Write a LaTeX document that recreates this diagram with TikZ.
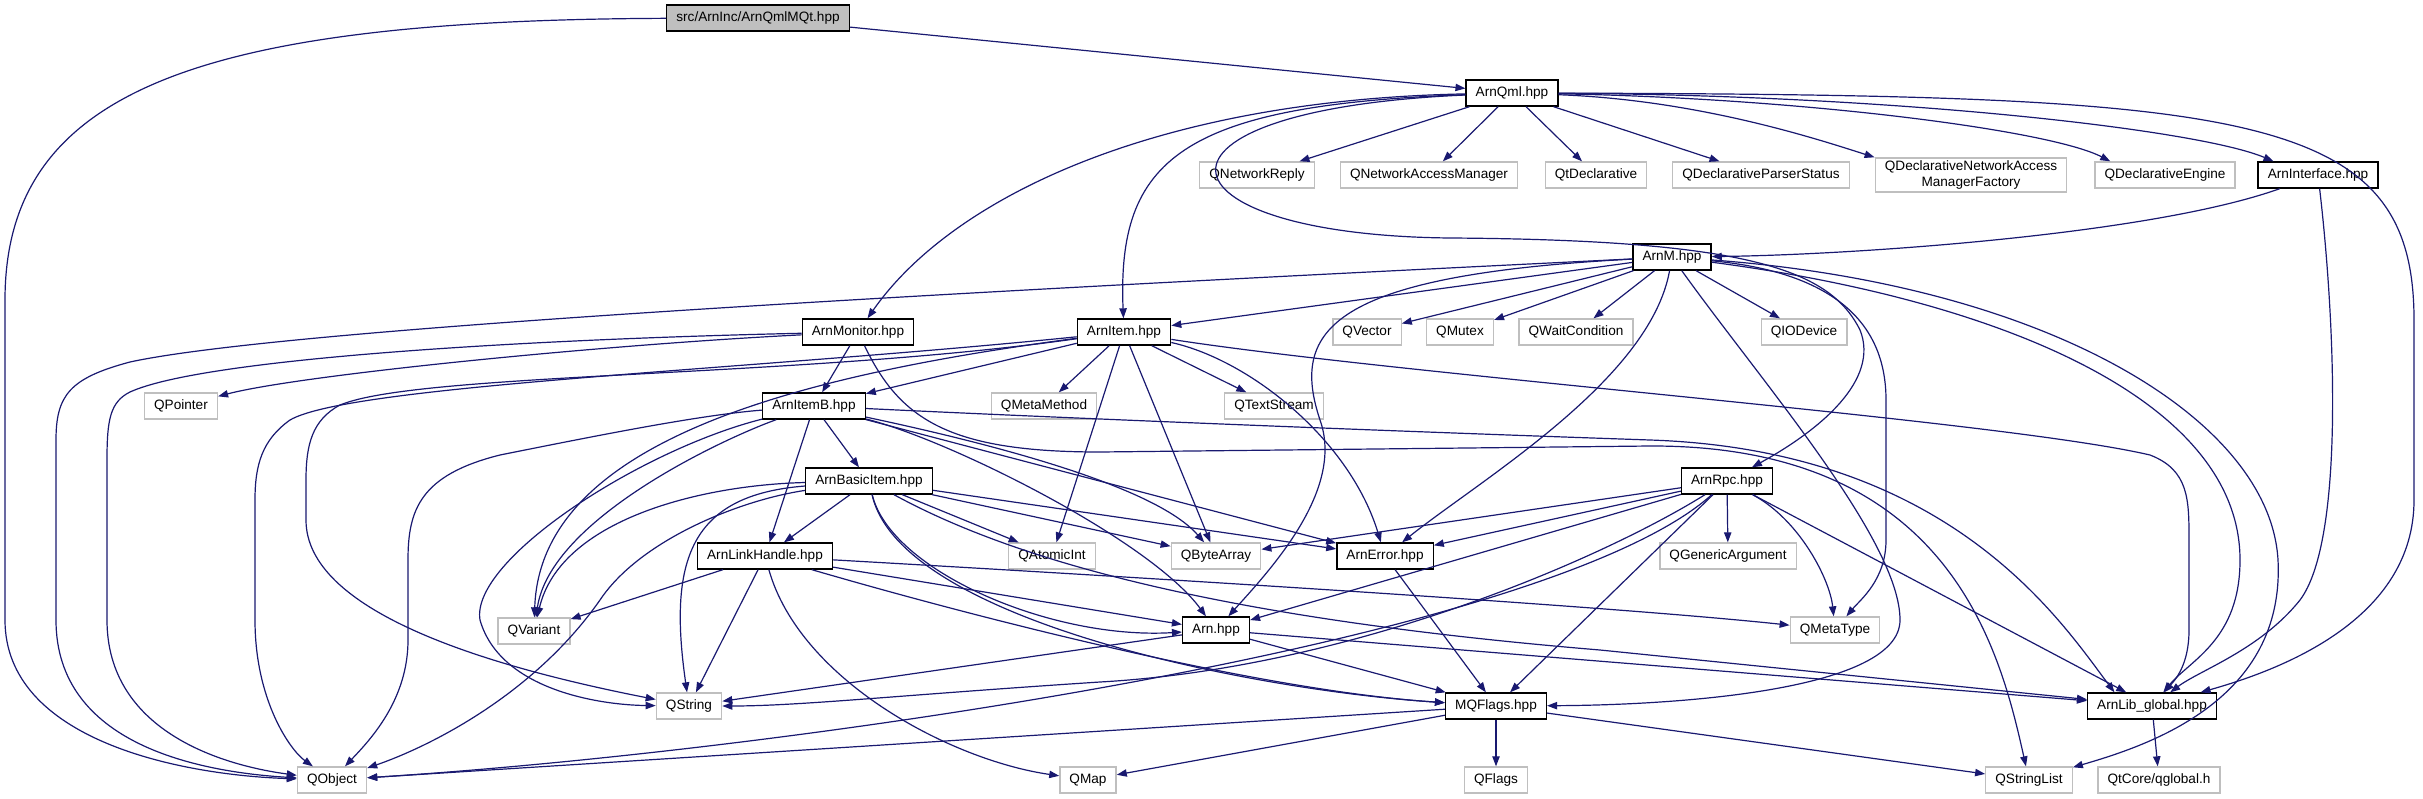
\documentclass[tikz,border=0pt]{standalone}
\usepackage{fontspec}
\setmainfont{Liberation Sans}
\usetikzlibrary{arrows.meta}
\definecolor{edgeblue}{RGB}{25,25,112}
\definecolor{extgray}{RGB}{191,191,191}

\begin{document}
\begin{tikzpicture}[x=0.75pt,y=-0.75pt,
  filebox/.style={fill=white,font=\fontsize{10.2}{12}\selectfont,inner xsep=7.2pt,inner ysep=2pt,minimum height=19.5pt,line width=1pt},
  hdr/.style={filebox,draw=black},
  sys/.style={filebox,draw=extgray},
  srcfile/.style={filebox,draw=black,fill=extgray},
  incl/.style={draw=edgeblue,line width=0.9pt,-{Triangle[length=7.5pt,width=5.5pt]}}]
  \useasboundingbox (0,0) rectangle (2423,799);
  % files, row by row
  \node[srcfile] (src) at (758,18) {src/ArnInc/ArnQmlMQt.hpp};
  \node[hdr] (qml) at (1512,93) {ArnQml.hpp};
  \node[sys] (netreply) at (1257,175) {QNetworkReply};
  \node[sys] (netmgr) at (1429,175) {QNetworkAccessManager};
  \node[sys] (qtdecl) at (1596,175) {QtDeclarative};
  \node[sys] (parser) at (1761,175) {QDeclarativeParserStatus};
  \node[sys,align=center] (factory) at (1971,175) {QDeclarativeNetworkAccess\\ManagerFactory};
  \node[sys] (engine) at (2165,175) {QDeclarativeEngine};
  \node[hdr] (iface) at (2318,175) {ArnInterface.hpp};
  \node[hdr] (arnm) at (1672,257) {ArnM.hpp};
  \node[hdr] (monitor) at (858,332) {ArnMonitor.hpp};
  \node[hdr] (item) at (1124,332) {ArnItem.hpp};
  \node[sys] (vector) at (1367,332) {QVector};
  \node[sys] (mutex) at (1460,332) {QMutex};
  \node[sys] (waitcond) at (1576,332) {QWaitCondition};
  \node[sys] (iodev) at (1804,332) {QIODevice};
  \node[sys] (pointer) at (181,406) {QPointer};
  \node[hdr] (itemb) at (814,406) {ArnItemB.hpp};
  \node[sys] (metamethod) at (1044,406) {QMetaMethod};
  \node[sys] (textstream) at (1274,406) {QTextStream};
  \node[hdr] (basic) at (869,481) {ArnBasicItem.hpp};
  \node[hdr] (rpc) at (1727,481) {ArnRpc.hpp};
  \node[hdr] (link) at (765,556) {ArnLinkHandle.hpp};
  \node[sys] (atomic) at (1052,556) {QAtomicInt};
  \node[sys] (bytearray) at (1216,556) {QByteArray};
  \node[hdr] (error) at (1385,556) {ArnError.hpp};
  \node[sys] (genarg) at (1728,556) {QGenericArgument};
  \node[sys] (variant) at (534,631) {QVariant};
  \node[hdr] (arn) at (1216,630) {Arn.hpp};
  \node[sys] (metatype) at (1835,630) {QMetaType};
  \node[sys] (qstring) at (689,706) {QString};
  \node[hdr] (mqflags) at (1496,706) {MQFlags.hpp};
  \node[hdr] (libglobal) at (2152,706) {ArnLib\_global.hpp};
  \node[sys] (qobject) at (332,780) {QObject};
  \node[sys] (qmap) at (1088,780) {QMap};
  \node[sys] (qflags) at (1496,780) {QFlags};
  \node[sys] (stringlist) at (2029,780) {QStringList};
  \node[sys] (qglobal) at (2159,780) {QtCore/qglobal.h};
  % includes
  \draw[incl] (src) -- (qml);
  \draw[incl] (src) .. controls (200,20) and (5,90) .. (5,300) -- (5,620) .. controls (5,740) and (180,775) .. (qobject);
  \draw[incl] (qml) -- (netreply);
  \draw[incl] (qml) -- (netmgr);
  \draw[incl] (qml) -- (qtdecl);
  \draw[incl] (qml) -- (parser);
  \draw[incl] (qml) .. controls (1700,100) and (1820,140) .. (factory.north west);
  \draw[incl] (qml) .. controls (1800,98) and (2050,130) .. ([xshift=12pt]engine.north west);
  \draw[incl] (qml) .. controls (1900,95) and (2200,130) .. ([xshift=12pt]iface.north west);
  \draw[incl] (qml) .. controls (2250,95) and (2414,110) .. (2414,320) -- (2414,500) .. controls (2414,620) and (2280,670) .. (libglobal);
  \draw[incl] (qml) .. controls (1150,100) and (950,200) .. (monitor);
  \draw[incl] (qml) .. controls (1180,105) and (1117,160) .. (item);
  \draw[incl] (qml) .. controls (1120,110) and (1150,235) .. (1450,238) .. controls (1750,240) and (1830,270) .. (1860,330) .. controls (1880,380) and (1820,430) .. (rpc);
  \draw[incl] (iface) .. controls (2150,235) and (1850,255) .. (arnm);
  \draw[incl] (iface) .. controls (2335,320) and (2345,540) .. (2300,600) .. controls (2260,650) and (2200,670) .. (libglobal);
  \draw[incl] (arnm) .. controls (1100,285) and (300,325) .. (130,362) .. controls (70,378) and (56,395) .. (56,440) -- (56,620) .. controls (56,745) and (200,772) .. (qobject);
  \draw[incl] (arnm) -- (item);
  \draw[incl] (arnm) -- (vector);
  \draw[incl] (arnm) -- (mutex);
  \draw[incl] (arnm) -- (waitcond);
  \draw[incl] (arnm) -- (iodev);
  \draw[incl] (arnm) .. controls (1650,380) and (1480,480) .. (error);
  \draw[incl] (arnm) .. controls (1330,275) and (1290,330) .. (1320,420) .. controls (1345,490) and (1270,570) .. (arn);
  \draw[incl] (arnm) .. controls (2000,300) and (2240,400) .. (2240,560) .. controls (2240,640) and (2190,660) .. (libglobal);
  \draw[incl] (arnm) .. controls (2050,285) and (2270,420) .. (2278,560) .. controls (2285,700) and (2150,745) .. (stringlist);
  \draw[incl] (arnm) .. controls (1830,272) and (1886,320) .. (1886,400) -- (1886,540) .. controls (1886,580) and (1860,600) .. (metatype);
  \draw[incl] (arnm) .. controls (1760,380) and (1900,540) .. (1900,620) .. controls (1900,690) and (1680,705) .. (mqflags);
  \draw[incl] (monitor) -- (itemb);
  \draw[incl] (monitor) .. controls (600,345) and (300,375) .. (pointer);
  \draw[incl] (monitor) .. controls (500,340) and (200,360) .. (130,392) .. controls (110,402) and (107,420) .. (107,460) -- (107,620) .. controls (107,730) and (220,765) .. (qobject);
  \draw[incl] (monitor) .. controls (900,420) and (950,452) .. (1100,452) -- (1650,446) .. controls (1950,445) and (2000,650) .. (stringlist);
  \draw[incl] (item) -- (itemb);
  \draw[incl] (item) -- (metamethod);
  \draw[incl] (item) -- (textstream);
  \draw[incl] (item) -- (atomic);
  \draw[incl] (item) -- (bytearray);
  \draw[incl] (item) .. controls (1250,360) and (1350,440) .. (error);
  \draw[incl] (item) .. controls (800,375) and (540,440) .. (variant);
  \draw[incl] (item) .. controls (800,378) and (420,372) .. (340,405) .. controls (312,420) and (306,445) .. (306,480) -- (306,520) .. controls (306,610) and (480,665) .. (qstring);
  \draw[incl] (item) .. controls (750,370) and (350,385) .. (290,420) .. controls (262,440) and (255,465) .. (255,500) -- (255,620) .. controls (255,700) and (290,750) .. (qobject);
  \draw[incl] (item) .. controls (1400,375) and (2000,420) .. (2150,455) .. controls (2189,470) and (2189,500) .. (2189,540) -- (2189,630) .. controls (2189,665) and (2175,680) .. (libglobal);
  \draw[incl] (itemb) -- (basic);
  \draw[incl] (itemb) -- (link);
  \draw[incl] (itemb) .. controls (950,440) and (1150,540) .. (arn);
  \draw[incl] (itemb) -- (error);
  \draw[incl] (itemb) .. controls (950,435) and (1150,480) .. (bytearray);
  \draw[incl] (itemb) .. controls (720,440) and (550,520) .. (variant);
  \draw[incl] (itemb) .. controls (640,450) and (470,560) .. (480,620) .. controls (500,690) and (600,705) .. (qstring);
  \draw[incl] (itemb) .. controls (700,415) and (600,435) .. (500,455) .. controls (420,475) and (408,510) .. (408,560) -- (408,640) .. controls (408,700) and (370,740) .. (qobject);
  \draw[incl] (itemb) .. controls (1000,415) and (1300,428) .. (1650,440) .. controls (1950,450) and (2060,620) .. (libglobal.160);
  \draw[incl] (basic) -- (link);
  \draw[incl] (basic) -- (atomic);
  \draw[incl] (basic) -- (bytearray);
  \draw[incl] (basic) -- (error);
  \draw[incl] (basic) .. controls (890,570) and (1050,640) .. (arn);
  \draw[incl] (basic) .. controls (700,485) and (560,520) .. (variant);
  \draw[incl] (basic) .. controls (690,495) and (668,560) .. (qstring);
  \draw[incl] (basic) .. controls (740,500) and (640,540) .. (600,600) .. controls (530,700) and (420,750) .. (qobject);
  \draw[incl] (basic) .. controls (900,620) and (1250,690) .. (mqflags);
  \draw[incl] (basic) .. controls (1050,580) and (1300,625) .. (1600,650) -- (libglobal);
  \draw[incl] (link) -- (variant);
  \draw[incl] (link) -- (qstring);
  \draw[incl] (link) -- (arn);
  \draw[incl] (link) .. controls (950,610) and (1250,690) .. (mqflags);
  \draw[incl] (link) .. controls (800,680) and (950,760) .. (qmap);
  \draw[incl] (link) .. controls (1100,575) and (1600,605) .. (metatype);
  \draw[incl] (rpc) -- (genarg);
  \draw[incl] (rpc) .. controls (1800,520) and (1830,580) .. (metatype);
  \draw[incl] (rpc) -- (error);
  \draw[incl] (rpc) -- (bytearray);
  \draw[incl] (rpc) -- (arn);
  \draw[incl] (rpc) -- (mqflags);
  \draw[incl] (rpc) -- (libglobal);
  \draw[incl] (rpc) .. controls (1600,560) and (1350,668) .. (1100,682) .. controls (900,695) and (800,706) .. (qstring);
  \draw[incl] (rpc) .. controls (1550,640) and (800,750) .. (qobject);
  \draw[incl] (arn) -- (qstring);
  \draw[incl] (arn) -- (mqflags);
  \draw[incl] (arn) -- (libglobal);
  \draw[incl] (error) -- (mqflags);
  \draw[incl] (mqflags) -- (qflags);
  \draw[incl] (mqflags) -- (qmap);
  \draw[incl] (mqflags) -- (stringlist);
  \draw[incl] (mqflags) -- (qobject);
  \draw[incl] (libglobal) -- (qglobal);
\end{tikzpicture}
\end{document}
